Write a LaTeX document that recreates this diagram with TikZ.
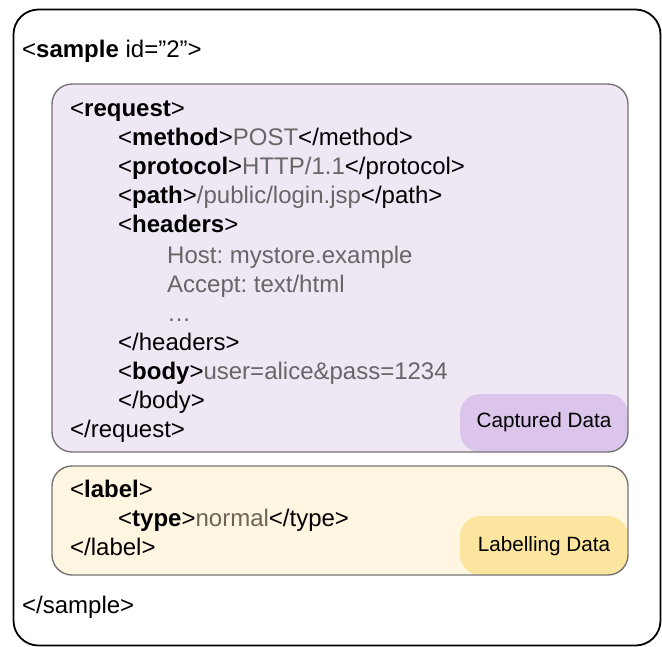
\documentclass[tikz,border=0pt]{standalone}
\usepackage{fontspec}
\setmainfont{Liberation Sans}
\frenchspacing
\definecolor{valgray}{HTML}{666666}
\definecolor{normcol}{HTML}{6B6558}
\definecolor{reqfill}{HTML}{F0E7F5}
\definecolor{capfill}{HTML}{DCC5EB}
\definecolor{labfill}{HTML}{FFF6E2}
\definecolor{labbub}{HTML}{FCE69F}
\definecolor{boxline}{HTML}{757575}
\begin{document}
\begin{tikzpicture}[x=1pt,y=-1pt,
  txt/.style={anchor=base west,inner sep=0pt,font=\fontsize{24}{29}\selectfont\frenchspacing,text=black},
  small/.style={anchor=center,inner sep=0pt,font=\fontsize{20.7}{24}\selectfont,text=black},
  inbox/.style={draw=boxline,line width=1.4pt,rounded corners=20pt}]
\useasboundingbox (0,0) rectangle (662,646);
% outer box
\draw[line width=1.8pt,rounded corners=25pt] (13.5,9.5) rectangle (660.5,645.5);
% request box
\fill[reqfill,rounded corners=20pt] (52,84) rectangle (628,452);
\fill[capfill,rounded corners=20pt] (460,394) rectangle (628,452);
\draw[inbox] (52,84) rectangle (628,452);
% label box
\fill[labfill,rounded corners=20pt] (52,466) rectangle (628,575);
\fill[labbub,rounded corners=20pt] (460,516) rectangle (628,575);
\draw[inbox] (52,466) rectangle (628,575);
% texts
\node[txt] (sample) at (22,57) {<\textbf{sample} id=”2”>};
\node[txt] (req) at (70,116) {<\textbf{request}>};
\node[txt] (meth) at (118,145) {<\textbf{method}>\textcolor{valgray}{POST}</method>};
\node[txt] (prot) at (118,174) {<\textbf{protocol}>\textcolor{valgray}{HTTP/1.1}</protocol>};
\node[txt] (path) at (118,203) {<\textbf{path}>\textcolor{valgray}{/public/login.jsp}</path>};
\node[txt] (head) at (118,232) {<\textbf{headers}>};
\node[txt,text=valgray] (host) at (167,263) {Host: mystore.example};
\node[txt,text=valgray] (acc) at (167,292) {Accept: text/html};
\node[txt,text=valgray] (dots) at (167,321) {…};
\node[txt] (headc) at (118,350) {</headers>};
\node[txt] (body) at (118,379) {<\textbf{body}>\textcolor{valgray}{user=alice\&pass=1234}};
\node[txt] (bodyc) at (118,408) {</body>};
\node[txt] (reqc) at (70,437) {</request>};
\node[small] (cap) at (544,422) {Captured Data};
\node[txt] (lab) at (70,497) {<\textbf{label}>};
\node[txt] (type) at (118,526) {<\textbf{type}>\textcolor{normcol}{normal}</type>};
\node[txt] (labc) at (70,555) {</label>};
\node[small] (labd) at (544,546) {Labelling Data};
\node[txt] (samplec) at (22,613) {</sample>};
\end{tikzpicture}
\end{document}
